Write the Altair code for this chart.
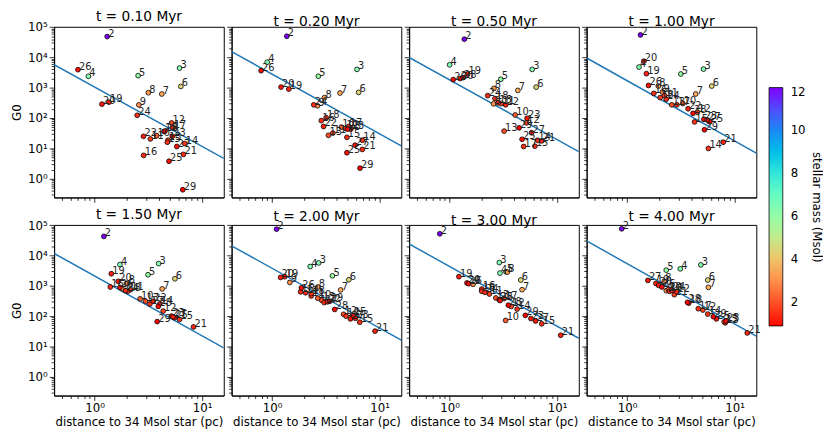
import math
import altair as alt
import pandas as pd

# ---------------- data ----------------
stars = list(range(2, 30))
mass = [12.0, 6.3, 6.4, 6.0, 4.4, 3.5, 3.2, 3.0, 2.2, 1.7, 1.8, 1.9, 1.6, 1.5,
        1.4, 1.5, 1.6, 1.2, 1.1, 1.3, 1.2, 1.0, 1.4, 1.0, 0.95, 1.05, 0.9, 0.87]

times = ["0.10", "0.20", "0.50", "1.00", "1.50", "2.00", "3.00", "4.00"]

d_010 = [1.31, 6.17, 0.875, 2.54, 6.34, 4.22, 3.16, 2.58, 3.77, 3.30, 5.20, 4.82, 6.89, 4.75,
         2.86, 5.35, 4.43, 1.36, 1.17, 6.70, 2.85, 5.28, 2.49, 4.92, 0.70, 5.82, 4.52, 6.61]
g_010 = [48500, 4430, 2380, 2500, 1100, 619, 684, 272, 26.2, 20.4, 69, 18.5, 14.4, 15.9,
         5.86, 48, 36, 333, 287, 6.32, 24.9, 24.9, 123, 3.75, 3920, 11.5, 37, 0.43]

d_020 = [1.37, 6.16, 0.90, 2.69, 6.38, 4.28, 3.07, 2.64, 4.40, 3.67, 4.82, 3.34, 6.90, 4.96,
         2.87, 5.16, 3.18, 1.43, 1.21, 6.90, 3.01, 5.39, 2.44, 4.96, 0.79, 5.91, 5.03, 6.57]
g_020 = [49700, 4020, 6950, 2380, 701, 668, 471, 253, 50, 31.9, 45.3, 26.9, 18.5, 23.1,
         82, 52.6, 103, 901, 1045, 9.2, 52.6, 43, 272, 7.16, 3640, 12.7, 43, 2.22]

d_050 = [1.37, 5.86, 1.00, 2.99, 6.38, 4.31, 2.58, 2.56, 4.07, 3.03, 5.17, 3.21, 6.56, 6.21,
         2.83, 4.88, 2.64, 1.47, 1.25, 7.19, 3.32, 5.25, 2.26, 4.72, 1.08, 5.78, 1.33, 4.43]
g_050 = [39800, 4020, 5690, 1900, 1045, 815, 946, 294, 126, 300, 69, 37, 18.5, 11.8,
         316, 11.5, 437, 2830, 2000, 17.6, 272, 98, 547, 19.9, 1850, 32.7, 2150, 47.5]

d_100 = [1.33, 5.13, 1.29, 3.16, 6.12, 4.34, 1.95, 2.13, 3.30, 2.23, 4.50, 2.60, 5.70, 4.24,
         1.77, 2.90, 2.03, 1.51, 1.43, 7.83, 3.69, 5.17, 2.31, 5.86, 1.58, 5.55, 4.10, 5.24]
g_100 = [55000, 4120, 4790, 2830, 1130, 620, 1130, 720, 300, 547, 157, 272, 9.9, 74.5,
         651, 272, 471, 2900, 7480, 15.9, 202, 91, 417, 74.5, 1186, 86.5, 143, 41]

d_150 = [1.22, 3.94, 1.72, 3.14, 5.58, 4.25, 2.03, 1.80, 2.65, 2.15, 4.34, 2.97, 4.05, 6.17,
         1.40, 3.27, 2.03, 1.43, 1.66, 8.32, 3.51, 5.18, 1.94, 5.55, 1.72, 5.36, 3.91, 3.82]
g_150 = [42700, 5420, 5030, 2320, 1710, 790, 1210, 795, 371, 740, 147, 311, 255, 77.6,
         912, 252, 660, 2500, 1400, 44, 311, 100, 690, 89, 890, 95, 209, 66]

d_200 = [1.10, 2.71, 2.26, 3.64, 5.17, 4.34, 2.66, 1.46, 2.66, 2.31, 4.62, 2.89, 4.88, 6.53,
         1.84, 3.05, 2.31, 1.31, 1.20, 9.06, 3.28, 5.95, 2.05, 5.64, 1.87, 5.35, 3.82, 3.44]
g_200 = [73800, 5700, 4330, 2140, 1585, 731, 912, 1290, 390, 460, 115, 333, 100, 63,
         631, 280, 550, 2000, 1890, 32, 297, 85, 590, 105, 850, 81, 166, 310]

d_300 = [0.81, 2.90, 2.94, 3.34, 4.59, 4.72, 3.44, 1.65, 3.32, 2.34, 3.74, 2.69, 4.24, 7.19,
         1.99, 3.21, 1.99, 1.22, 1.45, 10.8, 2.89, 5.70, 2.13, 2.95, 1.50, 6.30, 3.52, 5.06]
g_300 = [52000, 5850, 2630, 2900, 1550, 745, 2840, 1120, 72, 535, 209, 398, 171, 56,
         780, 380, 660, 2000, 1240, 23.4, 345, 83, 610, 328, 1175, 69, 230, 106]

d_400 = [0.89, 4.85, 3.12, 2.31, 5.62, 5.70, 2.21, 2.31, 2.42, 2.75, 5.06, 8.17, 5.62, 8.00,
         2.48, 4.59, 3.74, 1.85, 1.96, 13.1, 2.88, 8.32, 2.60, 6.76, 2.10, 1.56, 3.64, 6.34]
g_400 = [75800, 4900, 3630, 3290, 1550, 890, 1400, 690, 752, 512, 159, 60, 117, 65,
         660, 176, 268, 1200, 1035, 27.9, 640, 69, 713, 81, 910, 1510, 285, 96]

# fitted G0 ~ d^-2 line, value at the left and right edge of each panel
line_left = [5750, 15500, 10000, 9550, 11750, 20900, 24000, 30200]
line_right = [4.68, 12.0, 7.76, 6.92, 8.91, 16.2, 18.6, 21.9]

x_tick_values = [0.5, 0.6, 0.7, 0.8, 0.9, 1, 2, 3, 4, 5, 6, 7, 8, 9, 10]
y_tick_values = [0.3, 0.4, 0.5, 0.6, 0.7, 0.8, 0.9] + \
    [m * 10 ** e for e in range(0, 5) for m in range(1, 10)] + [100000]
colorbar_ticks = [2, 4, 6, 8, 10, 12]

panel_d = [d_010, d_020, d_050, d_100, d_150, d_200, d_300, d_400]
panel_g = [g_010, g_020, g_050, g_100, g_150, g_200, g_300, g_400]

# ---------------- styling ----------------
FONT = "DejaVu Sans"
X_DOM = [0.42, 15.9]
Y_DOM = [0.24, 1.02e5]
VMIN, VMAX = 0.87, 12.0
W, H = 173, 174


def rainbow_r(n=17):
    cols, dom = [], []
    for i in range(n):
        f = i / (n - 1)
        x = 1 - f
        r = min(1.0, abs(2 * x - 0.5))
        g = math.sin(math.pi * x)
        b = math.cos(math.pi * x / 2)
        cols.append("#%02x%02x%02x" % tuple(int(round(max(0, min(1, c)) * 255)) for c in (r, g, b)))
        dom.append(VMIN + f * (VMAX - VMIN))
    return dom, cols


c_dom, c_rng = rainbow_r()

major_test = "indexof([1,10,100,1000,10000,100000], datum.value) >= 0"
tick_size = {"condition": {"test": major_test, "value": 5}, "value": 3}
sup = "datum.value==1?'10⁰':datum.value==10?'10¹':datum.value==100?'10²':" \
      "datum.value==1000?'10³':datum.value==10000?'10⁴':datum.value==100000?'10⁵':''"

legend = alt.Legend(
    orient="none", legendX=729, legendY=62, direction="vertical",
    gradientLength=243, gradientThickness=14, values=colorbar_ticks,
    title="stellar mass (Msol)", titleOrient="right", titleAnchor="middle",
    titleFontSize=12, titleFontWeight="normal", titleFont=FONT, titleColor="black",
    titlePadding=5, labelFontSize=12, labelFont=FONT, labelColor="black",
    labelOffset=8, labelBaseline="middle", padding=0,
    gradientStrokeColor="black", gradientStrokeWidth=0.8,
)


def panel(i):
    row, col = divmod(i, 4)
    df = pd.DataFrame({"star": [str(s) for s in stars], "d": panel_d[i],
                       "g0": panel_g[i], "mass": mass})
    line_df = pd.DataFrame({"d": X_DOM, "g0": [line_left[i], line_right[i]]})

    xaxis = alt.Axis(values=x_tick_values, labelExpr=sup, labels=(row == 1),
                     title=("distance to 34 Msol star (pc)" if row == 1 else None),
                     tickSize=tick_size, grid=False, labelFlush=False, labelPadding=2)
    yaxis = alt.Axis(values=y_tick_values, labelExpr=sup, labels=(col == 0),
                     title=("G0" if col == 0 else None),
                     tickSize=tick_size, grid=False, labelFlush=False, labelPadding=2)
    xs = alt.Scale(type="log", domain=X_DOM, nice=False)
    ys = alt.Scale(type="log", domain=Y_DOM, nice=False)

    line = alt.Chart(line_df).mark_line(color="#1f77b4", strokeWidth=1.5, clip=True).encode(
        x=alt.X("d:Q", scale=xs, axis=xaxis),
        y=alt.Y("g0:Q", scale=ys, axis=yaxis),
    )
    pts = alt.Chart(df).mark_circle(size=24, opacity=1, stroke="black", strokeWidth=0.8).encode(
        x=alt.X("d:Q", scale=xs, axis=xaxis),
        y=alt.Y("g0:Q", scale=ys, axis=yaxis),
        fill=alt.Fill("mass:Q", scale=alt.Scale(domain=c_dom, range=c_rng), legend=legend),
    )
    txt = alt.Chart(df).mark_text(align="left", baseline="alphabetic", dx=1, fontSize=10,
                                  font=FONT, color="#222222").encode(
        x=alt.X("d:Q", scale=xs, axis=xaxis),
        y=alt.Y("g0:Q", scale=ys, axis=yaxis),
        text="star:N",
    )
    return alt.layer(line, pts, txt).properties(
        width=W, height=H,
        title=alt.TitleParams(f"t = {times[i]} Myr", fontSize=14, font=FONT,
                              fontWeight="normal", color="black", offset=-3, frame="group"),
    )


chart = alt.concat(*[panel(i) for i in range(8)], columns=4,
                   spacing={"row": 28, "column": 8}, bounds="flush").properties(
    padding={"left": 2, "top": -3, "right": 0, "bottom": 0}
).configure_view(stroke="black", strokeWidth=1).configure_axis(
    domainColor="black", domainWidth=1, tickColor="black", tickWidth=0.8,
    labelColor="black", labelFont=FONT, labelFontSize=12,
    titleColor="black", titleFont=FONT, titleFontSize=12, titleFontWeight="normal",
    titlePadding=4,
)

chart.save("out.html", embed_options={"renderer": "svg", "actions": False})
